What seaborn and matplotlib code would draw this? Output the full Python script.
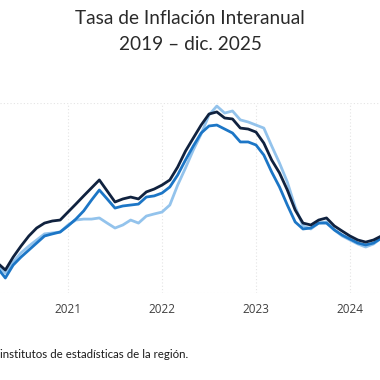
import numpy as np
import pandas as pd
import matplotlib
matplotlib.use("Agg")
import matplotlib.pyplot as plt
import seaborn as sns

# Months from Mar 2020 to Jun 2024
months = pd.date_range("2020-03-01", "2024-06-01", freq="MS")

serie_oscura = [1.89, 1.58, 1.21, 1.89, 2.47, 3.00, 3.42, 3.68, 3.79, 3.84,
                4.26, 4.68, 5.11, 5.53, 5.95, 5.37, 4.79, 4.95, 5.05, 4.95, 5.32, 5.47,
                5.68, 5.95, 6.63, 7.47, 8.16, 8.84, 9.42, 9.53, 9.21, 9.16, 8.68, 8.63,
                8.47, 7.89, 7.00, 6.32, 5.42, 4.37, 3.68, 3.58, 3.84, 3.95, 3.53, 3.26,
                3.00, 2.79, 2.68, 2.79, 3.00, 3.21]
serie_media = [1.58, 1.32, 0.79, 1.47, 1.89, 2.26, 2.63, 3.00, 3.11, 3.21,
               3.53, 3.89, 4.32, 4.89, 5.42, 4.95, 4.47, 4.58, 4.63, 4.68, 5.05, 5.11,
               5.26, 5.58, 6.21, 7.00, 7.74, 8.42, 8.79, 8.84, 8.63, 8.42, 7.95, 7.95,
               7.79, 7.26, 6.37, 5.58, 4.63, 3.74, 3.37, 3.42, 3.68, 3.68, 3.32, 3.05,
               2.84, 2.63, 2.53, 2.63, 2.89, 3.11]
serie_clara = [1.84, 1.53, 1.05, 1.63, 2.11, 2.47, 2.79, 3.11, 3.16, 3.21,
               3.58, 3.84, 3.89, 3.89, 3.95, 3.68, 3.42, 3.58, 3.84, 3.68, 4.05, 4.16,
               4.26, 4.63, 5.68, 6.58, 7.53, 8.37, 9.37, 9.84, 9.47, 9.58, 9.11, 9.00,
               8.84, 8.68, 7.74, 6.84, 5.84, 4.53, 3.53, 3.37, 3.68, 3.74, 3.32, 3.00,
               2.79, 2.58, 2.42, 2.58, 2.89, 3.11]

years = [2021, 2022, 2023, 2024]
year_labels = ["2021", "2022", "2023", "2024"]

t = months.year + (months.month - 1) / 12.0
df = pd.concat([
    pd.DataFrame({"t": t, "v": serie_clara, "s": "clara"}),
    pd.DataFrame({"t": t, "v": serie_media, "s": "media"}),
    pd.DataFrame({"t": t, "v": serie_oscura, "s": "oscura"}),
])

sns.set_style("white")
fig = plt.figure(figsize=(3.8, 3.8), dpi=100)
ax = fig.add_axes([0, 1 - 293 / 380, 1, 190 / 380])

palette = {"clara": "#93c3ec", "media": "#1c76c6", "oscura": "#10223f"}
sns.lineplot(data=df, x="t", y="v", hue="s", palette=palette, linewidth=2.0,
             legend=False, ax=ax, hue_order=["clara", "media", "oscura"])

x0 = 2021 - 68 / 94
ax.set_xlim(x0, x0 + 380 / 94)
ax.set_ylim(0, 10)
ax.set_xticks(years)
ax.set_xticklabels(year_labels, fontsize=8.5, color="#404040", family="Open Sans")
ax.set_yticks([0, 10])
ax.set_yticklabels([])
ax.tick_params(axis="both", length=0, pad=7)
ax.grid(True, color="#e4e4e4", linestyle=(0, (1, 2)), linewidth=0.8)
ax.set_xlabel("")
ax.set_ylabel("")
for sp in ax.spines.values():
    sp.set_visible(False)

fig.text(0.5, 1 - 19 / 380, "Tasa de Inflación Interanual", ha="center", va="center",
         fontsize=13.7, color="#2a2a2a", family="Lato")
fig.text(0.5, 1 - 44 / 380, "2019 – dic. 2025", ha="center", va="center",
         fontsize=13.7, color="#2a2a2a", family="Lato")
fig.text(0.0, 1 - 355 / 380, "institutos de estadísticas de la región.", ha="left", va="center",
         fontsize=8.3, color="#1a1a1a", family="Lato")

fig.savefig("out.png", dpi=100)
